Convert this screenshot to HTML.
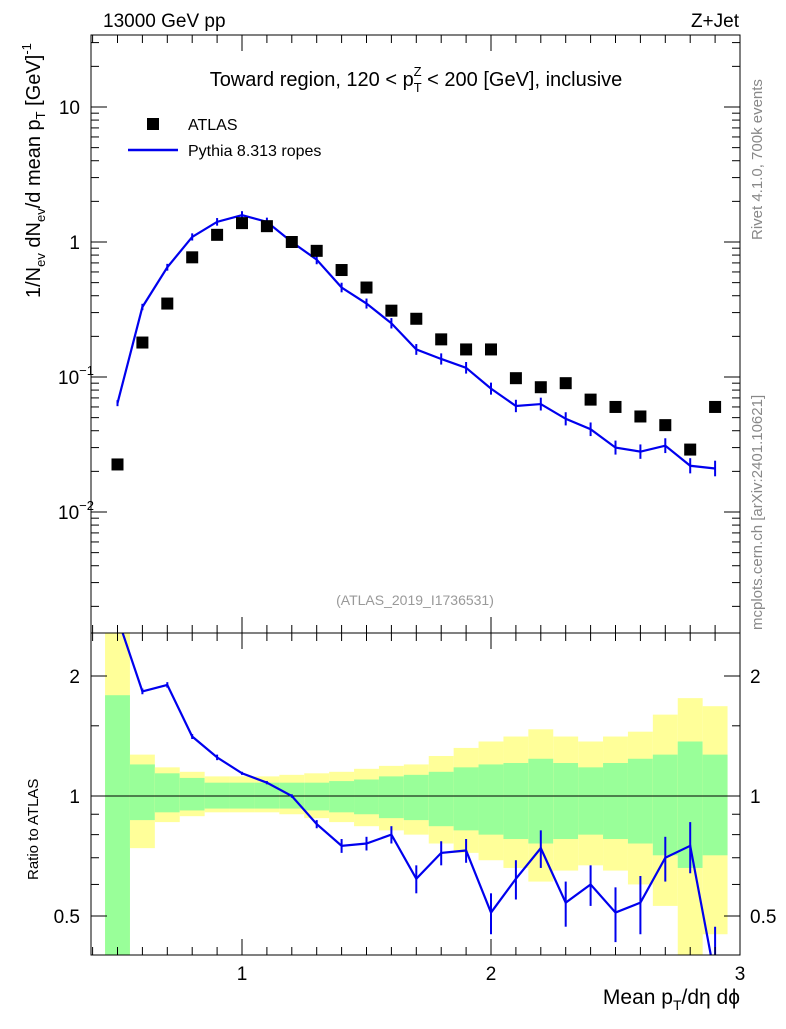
<!DOCTYPE html>
<html><head><meta charset="utf-8"><style>
body{margin:0;background:#fff;}
svg text{font-family:"Liberation Sans",sans-serif;}
</style></head><body>
<svg id="c" width="786" height="1024" xmlns="http://www.w3.org/2000/svg">
<g id="bands"></g><g id="marks"></g><g id="axes"></g>
<text x="103" y="27" font-size="19">13000 GeV pp</text>
<text x="739" y="27" font-size="19" text-anchor="end">Z+Jet</text>
<text x="416" y="86" font-size="20" text-anchor="middle">Toward region, 120 &lt; p<tspan font-size="13" dy="6">T</tspan><tspan font-size="13" dx="-8" dy="-16">Z</tspan><tspan dy="10"> &lt; 200 [GeV], inclusive</tspan></text>
<rect x="147" y="118" width="12" height="12" fill="#000"/>
<text x="188" y="130" font-size="16">ATLAS</text>
<line x1="128" y1="150" x2="178" y2="150" stroke="#0000ee" stroke-width="2.5"/>
<text x="188" y="156" font-size="16">Pythia 8.313 ropes</text>
<text x="415" y="605" font-size="14" fill="#999" text-anchor="middle">(ATLAS_2019_I1736531)</text>
<text transform="translate(762,240) rotate(-90)" font-size="15" fill="#888">Rivet 4.1.0,  700k events</text>
<text transform="translate(762,630) rotate(-90)" font-size="15" fill="#888">mcplots.cern.ch [arXiv:2401.10621]</text>
<text transform="translate(40,298) rotate(-90)" font-size="20">1/N<tspan font-size="13" dy="5">ev</tspan><tspan dy="-5"> dN</tspan><tspan font-size="13" dy="5">ev</tspan><tspan dy="-5">/d mean p</tspan><tspan font-size="13" dy="5">T</tspan><tspan dy="-5"> [GeV]</tspan><tspan font-size="13" dy="-9">-1</tspan></text>
<text transform="translate(38,880) rotate(-90)" font-size="15">Ratio to ATLAS</text>
<text x="740" y="1004" font-size="21" text-anchor="end">Mean p<tspan font-size="14" dy="6">T</tspan><tspan dy="-6">/dη dϕ</tspan></text>
</svg>
<script>
const xs=[0.5,0.6,0.7,0.8,0.9,1.0,1.1,1.2,1.3,1.4,1.5,1.6,1.7,1.8,1.9,2.0,2.1,2.2,2.3,2.4,2.5,2.6,2.7,2.8,2.9];
const atlas=[0.0225,0.18,0.35,0.77,1.13,1.38,1.31,1.0,0.86,0.62,0.46,0.31,0.27,0.19,0.16,0.16,0.098,0.084,0.09,0.068,0.06,0.051,0.044,0.029,0.06];
const pythia=[0.064,0.33,0.65,1.09,1.41,1.58,1.41,1.0,0.74,0.46,0.35,0.25,0.16,0.136,0.117,0.082,0.061,0.063,0.049,0.041,0.030,0.028,0.031,0.022,0.021];
const ratio=[2.8,1.83,1.9,1.41,1.25,1.14,1.08,1.0,0.85,0.75,0.76,0.8,0.62,0.72,0.73,0.51,0.62,0.74,0.54,0.6,0.51,0.54,0.7,0.75,0.35];
const ratioErr=[0.05,0.03,0.03,0.02,0.02,0.01,0.01,0.01,0.02,0.03,0.03,0.04,0.05,0.05,0.05,0.06,0.07,0.08,0.07,0.07,0.08,0.09,0.09,0.11,0.12];
const greenUp=[1.79,1.2,1.14,1.11,1.08,1.08,1.08,1.08,1.08,1.09,1.1,1.12,1.13,1.15,1.18,1.2,1.21,1.24,1.21,1.18,1.21,1.24,1.27,1.37,1.27];
const greenLo=[0.3,0.87,0.91,0.92,0.93,0.93,0.93,0.93,0.92,0.91,0.9,0.88,0.87,0.84,0.82,0.8,0.78,0.76,0.78,0.8,0.78,0.76,0.71,0.66,0.71];
const yelUp=[3,1.27,1.18,1.15,1.12,1.12,1.12,1.13,1.14,1.15,1.17,1.19,1.2,1.26,1.32,1.37,1.41,1.47,1.41,1.37,1.41,1.45,1.6,1.76,1.68];
const yelLo=[0.3,0.74,0.86,0.89,0.91,0.91,0.91,0.9,0.88,0.86,0.84,0.82,0.8,0.76,0.72,0.69,0.66,0.61,0.65,0.67,0.65,0.6,0.53,0.36,0.45];
const L=91,R=740,T=35,M=633,B=955;
const X=v=>242+(v-1)*249;
const Y=v=>242-Math.log10(v)*135;
const YR=v=>796-Math.log2(v)*120;
const NS="http://www.w3.org/2000/svg";
function mk(p,t,a){const e=document.createElementNS(NS,t);for(const k in a)e.setAttribute(k,a[k]);document.getElementById(p).appendChild(e);return e;}
const cl=(v,a,b)=>Math.max(a,Math.min(b,v));
xs.forEach((x,i)=>{
 const x0=X(x-0.05),x1=X(x+0.05);
 let y0=cl(YR(yelUp[i]),M,B),y1=cl(YR(yelLo[i]),M,B);
 let e=mk('bands','rect',{x:x0,y:y0,width:x1-x0,height:y1-y0,fill:'#ffff99'});
 
 y0=cl(YR(greenUp[i]),M,B);y1=cl(YR(greenLo[i]),M,B);
 e=mk('bands','rect',{x:x0,y:y0,width:x1-x0,height:y1-y0,fill:'#99ff99'});
 
});
let e=mk('marks','line',{x1:L,y1:796,x2:R,y2:796,stroke:'#000','stroke-width':1});

e=mk('marks','polyline',{points:xs.map((x,i)=>X(x)+','+Y(pythia[i])).join(' '),fill:'none',stroke:'#0000ee','stroke-width':2.2});

xs.forEach((x,i)=>{const y=Y(pythia[i]);const d=3+i*0.2;
 const b=mk('marks','line',{x1:X(x),x2:X(x),y1:y-d,y2:y+d,stroke:'#0000ee','stroke-width':2});
 });
xs.forEach((x,i)=>{const r=mk('marks','rect',{x:X(x)-6,y:Y(atlas[i])-6,width:12,height:12,fill:'#000'});
 });
const cp=mk('marks','clipPath',{id:'rc'});
const cr=document.createElementNS(NS,'rect');cr.setAttribute('x',L);cr.setAttribute('y',M);cr.setAttribute('width',R-L);cr.setAttribute('height',B-M);cp.appendChild(cr);
e=mk('marks','polyline',{points:xs.map((x,i)=>X(x)+','+YR(ratio[i])).join(' '),fill:'none',stroke:'#0000ee','stroke-width':2.2,'clip-path':'url(#rc)'});

xs.forEach((x,i)=>{const b=mk('marks','line',{x1:X(x),x2:X(x),y1:YR(ratio[i]+ratioErr[i]),y2:YR(Math.max(0.01,ratio[i]-ratioErr[i])),stroke:'#0000ee','stroke-width':2,'clip-path':'url(#rc)'});
 });
[[T,M,'main-frame'],[M,B,'ratio-frame']].forEach(([a,b,n])=>{const f=mk('axes','rect',{x:L,y:a,width:R-L,height:b-a,fill:'none',stroke:'#000','stroke-width':1});
 });
const ln=(x1,y1,x2,y2)=>mk('axes','line',{x1,y1,x2,y2,stroke:'#000','stroke-width':1});
for(let k=4;k<=30;k++){const v=k/10,x=X(v),maj=k%10==0,h=maj?16:8;
 ln(x,B,x,B-h);ln(x,M,x,M+h);ln(x,M,x,M-h);ln(x,T,x,T+h);
 if(maj){const t=mk('axes','text',{x:x,y:980,'font-size':19,'text-anchor':'middle'});t.textContent=k/10;
 }}
for(let d=-3;d<=1;d++)for(let m=1;m<=9;m++){const v=m*Math.pow(10,d),y=Y(v);if(y<T||y>M)continue;const h=m==1?16:8;ln(L,y,L+h,y);ln(R,y,R-h,y);}
const yl=[[10,'10'],[1,'1']];
yl.forEach(([v,s])=>{const t=mk('axes','text',{x:80,y:Y(v)+7,'font-size':19,'text-anchor':'end'});t.textContent=s;
 });
[[-1,0.1],[-2,0.01]].forEach(([p,v])=>{const t=mk('axes','text',{x:58,y:Y(v)+7,'font-size':19});t.innerHTML='10<tspan font-size="13" dy="-9">'+(p==-1?'−1':'−2')+'</tspan>';
 });
[0.5,0.6,0.7,0.8,0.9,1,1.5,2].forEach(v=>{const y=YR(v),h=(v==0.5||v==1||v==2)?16:8;ln(L,y,L+h,y);ln(R,y,R-h,y);});
[0.5,1,2].forEach(v=>{const s=String(v);
 let t=mk('axes','text',{x:80,y:YR(v)+7,'font-size':19,'text-anchor':'end'});t.textContent=s;
 
 t=mk('axes','text',{x:750,y:YR(v)+7,'font-size':19});t.textContent=s;
 });
</script>
</body></html>
